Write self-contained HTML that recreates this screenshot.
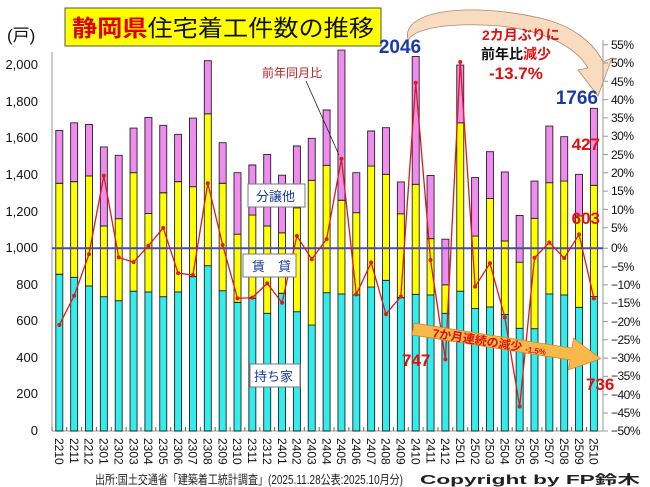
<!DOCTYPE html>
<html><head><meta charset="utf-8"><style>
body{margin:0;background:#fff}
svg{display:block;font-family:"Liberation Sans","Noto Sans CJK JP",sans-serif}
</style></head><body>
<svg width="650" height="487" viewBox="0 0 650 487" xmlns="http://www.w3.org/2000/svg">
<rect width="650" height="487" fill="#fff"/>
<path d="M408,40 C400,10 470,2 540,18 C575,26 595,45 603,62 L612,58 L598,96 L578,70 L588,68 C575,45 540,30 500,26 C450,22 415,28 408,40 Z" fill="#f9dcc0" stroke="#b08a70" stroke-width="0.8"/>
<g stroke="#999" stroke-width="1" fill="none">
<line x1="52" y1="52" x2="52" y2="431"/>
<line x1="603" y1="40" x2="603" y2="431"/>
<line x1="52" y1="431" x2="603" y2="431"/>
</g>
<g transform="translate(0,431) scale(1,-0.1827)" stroke="#222" stroke-width="0.9">
<g fill="#33ecec">
<rect x="55.8" y="0" width="7" height="858" vector-effect="non-scaling-stroke"/>
<rect x="70.65" y="0" width="7" height="841" vector-effect="non-scaling-stroke"/>
<rect x="85.5" y="0" width="7" height="794" vector-effect="non-scaling-stroke"/>
<rect x="100.35" y="0" width="7" height="735" vector-effect="non-scaling-stroke"/>
<rect x="115.2" y="0" width="7" height="713" vector-effect="non-scaling-stroke"/>
<rect x="130.05" y="0" width="7" height="765" vector-effect="non-scaling-stroke"/>
<rect x="144.9" y="0" width="7" height="761" vector-effect="non-scaling-stroke"/>
<rect x="159.75" y="0" width="7" height="735" vector-effect="non-scaling-stroke"/>
<rect x="174.6" y="0" width="7" height="761" vector-effect="non-scaling-stroke"/>
<rect x="189.45" y="0" width="7" height="845" vector-effect="non-scaling-stroke"/>
<rect x="204.3" y="0" width="7" height="905" vector-effect="non-scaling-stroke"/>
<rect x="219.15" y="0" width="7" height="768" vector-effect="non-scaling-stroke"/>
<rect x="234" y="0" width="7" height="704" vector-effect="non-scaling-stroke"/>
<rect x="248.85" y="0" width="7" height="726" vector-effect="non-scaling-stroke"/>
<rect x="263.7" y="0" width="7" height="644" vector-effect="non-scaling-stroke"/>
<rect x="278.55" y="0" width="7" height="754" vector-effect="non-scaling-stroke"/>
<rect x="293.4" y="0" width="7" height="653" vector-effect="non-scaling-stroke"/>
<rect x="308.25" y="0" width="7" height="580" vector-effect="non-scaling-stroke"/>
<rect x="323.1" y="0" width="7" height="757" vector-effect="non-scaling-stroke"/>
<rect x="337.95" y="0" width="7" height="750" vector-effect="non-scaling-stroke"/>
<rect x="352.8" y="0" width="7" height="745" vector-effect="non-scaling-stroke"/>
<rect x="367.65" y="0" width="7" height="788" vector-effect="non-scaling-stroke"/>
<rect x="382.5" y="0" width="7" height="825" vector-effect="non-scaling-stroke"/>
<rect x="397.35" y="0" width="7" height="730" vector-effect="non-scaling-stroke"/>
<rect x="412.2" y="0" width="7" height="748" vector-effect="non-scaling-stroke"/>
<rect x="427.05" y="0" width="7" height="745" vector-effect="non-scaling-stroke"/>
<rect x="441.9" y="0" width="7" height="644" vector-effect="non-scaling-stroke"/>
<rect x="456.75" y="0" width="7" height="765" vector-effect="non-scaling-stroke"/>
<rect x="471.6" y="0" width="7" height="670" vector-effect="non-scaling-stroke"/>
<rect x="486.45" y="0" width="7" height="679" vector-effect="non-scaling-stroke"/>
<rect x="501.3" y="0" width="7" height="638" vector-effect="non-scaling-stroke"/>
<rect x="516.15" y="0" width="7" height="562" vector-effect="non-scaling-stroke"/>
<rect x="531" y="0" width="7" height="560" vector-effect="non-scaling-stroke"/>
<rect x="545.85" y="0" width="7" height="750" vector-effect="non-scaling-stroke"/>
<rect x="560.7" y="0" width="7" height="745" vector-effect="non-scaling-stroke"/>
<rect x="575.55" y="0" width="7" height="677" vector-effect="non-scaling-stroke"/>
<rect x="590.4" y="0" width="7" height="736" vector-effect="non-scaling-stroke"/>
</g>
<g fill="#ffff00">
<rect x="55.8" y="858" width="7" height="498" vector-effect="non-scaling-stroke"/>
<rect x="70.65" y="841" width="7" height="524" vector-effect="non-scaling-stroke"/>
<rect x="85.5" y="794" width="7" height="602" vector-effect="non-scaling-stroke"/>
<rect x="100.35" y="735" width="7" height="387" vector-effect="non-scaling-stroke"/>
<rect x="115.2" y="713" width="7" height="449" vector-effect="non-scaling-stroke"/>
<rect x="130.05" y="765" width="7" height="649" vector-effect="non-scaling-stroke"/>
<rect x="144.9" y="761" width="7" height="430" vector-effect="non-scaling-stroke"/>
<rect x="159.75" y="735" width="7" height="569" vector-effect="non-scaling-stroke"/>
<rect x="174.6" y="761" width="7" height="604" vector-effect="non-scaling-stroke"/>
<rect x="189.45" y="845" width="7" height="492" vector-effect="non-scaling-stroke"/>
<rect x="204.3" y="905" width="7" height="831" vector-effect="non-scaling-stroke"/>
<rect x="219.15" y="768" width="7" height="588" vector-effect="non-scaling-stroke"/>
<rect x="234" y="704" width="7" height="373" vector-effect="non-scaling-stroke"/>
<rect x="248.85" y="726" width="7" height="456" vector-effect="non-scaling-stroke"/>
<rect x="263.7" y="644" width="7" height="478" vector-effect="non-scaling-stroke"/>
<rect x="278.55" y="754" width="7" height="331" vector-effect="non-scaling-stroke"/>
<rect x="293.4" y="653" width="7" height="569" vector-effect="non-scaling-stroke"/>
<rect x="308.25" y="580" width="7" height="792" vector-effect="non-scaling-stroke"/>
<rect x="323.1" y="757" width="7" height="697" vector-effect="non-scaling-stroke"/>
<rect x="337.95" y="750" width="7" height="513" vector-effect="non-scaling-stroke"/>
<rect x="352.8" y="745" width="7" height="450" vector-effect="non-scaling-stroke"/>
<rect x="367.65" y="788" width="7" height="662" vector-effect="non-scaling-stroke"/>
<rect x="382.5" y="825" width="7" height="580" vector-effect="non-scaling-stroke"/>
<rect x="397.35" y="730" width="7" height="459" vector-effect="non-scaling-stroke"/>
<rect x="412.2" y="748" width="7" height="602" vector-effect="non-scaling-stroke"/>
<rect x="427.05" y="745" width="7" height="308" vector-effect="non-scaling-stroke"/>
<rect x="441.9" y="644" width="7" height="156" vector-effect="non-scaling-stroke"/>
<rect x="456.75" y="765" width="7" height="922" vector-effect="non-scaling-stroke"/>
<rect x="471.6" y="670" width="7" height="397" vector-effect="non-scaling-stroke"/>
<rect x="486.45" y="679" width="7" height="594" vector-effect="non-scaling-stroke"/>
<rect x="501.3" y="638" width="7" height="402" vector-effect="non-scaling-stroke"/>
<rect x="516.15" y="562" width="7" height="362" vector-effect="non-scaling-stroke"/>
<rect x="531" y="560" width="7" height="604" vector-effect="non-scaling-stroke"/>
<rect x="545.85" y="750" width="7" height="609" vector-effect="non-scaling-stroke"/>
<rect x="560.7" y="745" width="7" height="623" vector-effect="non-scaling-stroke"/>
<rect x="575.55" y="677" width="7" height="500" vector-effect="non-scaling-stroke"/>
<rect x="590.4" y="736" width="7" height="609" vector-effect="non-scaling-stroke"/>
</g>
<g fill="#f08cf0">
<rect x="55.8" y="1356" width="7" height="289" vector-effect="non-scaling-stroke"/>
<rect x="70.65" y="1365" width="7" height="322" vector-effect="non-scaling-stroke"/>
<rect x="85.5" y="1396" width="7" height="282" vector-effect="non-scaling-stroke"/>
<rect x="100.35" y="1122" width="7" height="433" vector-effect="non-scaling-stroke"/>
<rect x="115.2" y="1162" width="7" height="347" vector-effect="non-scaling-stroke"/>
<rect x="130.05" y="1414" width="7" height="244" vector-effect="non-scaling-stroke"/>
<rect x="144.9" y="1191" width="7" height="525" vector-effect="non-scaling-stroke"/>
<rect x="159.75" y="1304" width="7" height="369" vector-effect="non-scaling-stroke"/>
<rect x="174.6" y="1365" width="7" height="259" vector-effect="non-scaling-stroke"/>
<rect x="189.45" y="1337" width="7" height="376" vector-effect="non-scaling-stroke"/>
<rect x="204.3" y="1736" width="7" height="291" vector-effect="non-scaling-stroke"/>
<rect x="219.15" y="1356" width="7" height="222" vector-effect="non-scaling-stroke"/>
<rect x="234" y="1077" width="7" height="337" vector-effect="non-scaling-stroke"/>
<rect x="248.85" y="1182" width="7" height="274" vector-effect="non-scaling-stroke"/>
<rect x="263.7" y="1122" width="7" height="392" vector-effect="non-scaling-stroke"/>
<rect x="278.55" y="1085" width="7" height="315" vector-effect="non-scaling-stroke"/>
<rect x="293.4" y="1222" width="7" height="338" vector-effect="non-scaling-stroke"/>
<rect x="308.25" y="1372" width="7" height="230" vector-effect="non-scaling-stroke"/>
<rect x="323.1" y="1454" width="7" height="303" vector-effect="non-scaling-stroke"/>
<rect x="337.95" y="1263" width="7" height="822" vector-effect="non-scaling-stroke"/>
<rect x="352.8" y="1195" width="7" height="219" vector-effect="non-scaling-stroke"/>
<rect x="367.65" y="1450" width="7" height="192" vector-effect="non-scaling-stroke"/>
<rect x="382.5" y="1405" width="7" height="255" vector-effect="non-scaling-stroke"/>
<rect x="397.35" y="1189" width="7" height="174" vector-effect="non-scaling-stroke"/>
<rect x="412.2" y="1350" width="7" height="700" vector-effect="non-scaling-stroke"/>
<rect x="427.05" y="1053" width="7" height="346" vector-effect="non-scaling-stroke"/>
<rect x="441.9" y="800" width="7" height="250" vector-effect="non-scaling-stroke"/>
<rect x="456.75" y="1687" width="7" height="316" vector-effect="non-scaling-stroke"/>
<rect x="471.6" y="1067" width="7" height="320" vector-effect="non-scaling-stroke"/>
<rect x="486.45" y="1273" width="7" height="256" vector-effect="non-scaling-stroke"/>
<rect x="501.3" y="1040" width="7" height="378" vector-effect="non-scaling-stroke"/>
<rect x="516.15" y="924" width="7" height="256" vector-effect="non-scaling-stroke"/>
<rect x="531" y="1164" width="7" height="204" vector-effect="non-scaling-stroke"/>
<rect x="545.85" y="1359" width="7" height="310" vector-effect="non-scaling-stroke"/>
<rect x="560.7" y="1368" width="7" height="243" vector-effect="non-scaling-stroke"/>
<rect x="575.55" y="1177" width="7" height="228" vector-effect="non-scaling-stroke"/>
<rect x="590.4" y="1345" width="7" height="421" vector-effect="non-scaling-stroke"/>
</g>
</g>
<line x1="52" y1="248.3" x2="603" y2="248.3" stroke="#4a4aa8" stroke-width="2"/>
<path d="M52,431v-4 M66.7,431v-4 M81.6,431v-4 M96.4,431v-4 M111.3,431v-4 M126.1,431v-4 M141,431v-4 M155.8,431v-4 M170.7,431v-4 M185.5,431v-4 M200.4,431v-4 M215.2,431v-4 M230.1,431v-4 M244.9,431v-4 M259.8,431v-4 M274.6,431v-4 M289.5,431v-4 M304.3,431v-4 M319.2,431v-4 M334,431v-4 M348.9,431v-4 M363.7,431v-4 M378.6,431v-4 M393.4,431v-4 M408.3,431v-4 M423.1,431v-4 M438,431v-4 M452.8,431v-4 M467.7,431v-4 M482.5,431v-4 M497.4,431v-4 M512.2,431v-4 M527.1,431v-4 M541.9,431v-4 M556.8,431v-4 M571.6,431v-4 M586.5,431v-4" stroke="#666" stroke-width="1"/>
<path d="M603,44.7h5 M603,63h5 M603,81.3h5 M603,99.6h5 M603,117.9h5 M603,136.2h5 M603,154.5h5 M603,172.8h5 M603,191.1h5 M603,209.4h5 M603,227.7h5 M603,248.3h5 M603,266.6h5 M603,284.9h5 M603,303.2h5 M603,321.5h5 M603,339.8h5 M603,358.1h5 M603,376.4h5 M603,394.7h5 M603,413h5 M603,431h5" stroke="#999"/>
<g transform="translate(0,248.3) scale(1,-3.654)" fill="none" stroke="#e01818">
<polyline vector-effect="non-scaling-stroke" stroke-width="1.3" points="59.3,-21 74.15,-13 89,-1.6 103.85,19.9 118.7,-2.5 133.55,-3.8 148.4,0.7 163.25,5.6 178.1,-6.8 192.95,-7.3 207.8,17.8 222.65,0.9 237.5,-13.7 252.35,-13.5 267.2,-9.6 282.05,-14.9 296.9,3.4 311.75,-3 326.6,2.5 341.45,24.5 356.3,-12.6 371.15,-3.9 386,-18 400.85,-13.2 415.7,45.3 430.55,-3.2 445.4,-30.4 460.25,51 475.1,-10.5 489.95,-4.1 504.8,-18.9 519.65,-43.3 534.5,-2.6 549.35,1.6 564.2,-2.7 579.05,3.8 593.9,-13.7"/>
<path vector-effect="non-scaling-stroke" stroke-width="4" stroke-linecap="round" d="M59.3,-21h0.01M74.15,-13h0.01M89,-1.6h0.01M103.85,19.9h0.01M118.7,-2.5h0.01M133.55,-3.8h0.01M148.4,0.7h0.01M163.25,5.6h0.01M178.1,-6.8h0.01M192.95,-7.3h0.01M207.8,17.8h0.01M222.65,0.9h0.01M237.5,-13.7h0.01M252.35,-13.5h0.01M267.2,-9.6h0.01M282.05,-14.9h0.01M296.9,3.4h0.01M311.75,-3h0.01M326.6,2.5h0.01M341.45,24.5h0.01M356.3,-12.6h0.01M371.15,-3.9h0.01M386,-18h0.01M400.85,-13.2h0.01M415.7,45.3h0.01M430.55,-3.2h0.01M445.4,-30.4h0.01M460.25,51h0.01M475.1,-10.5h0.01M489.95,-4.1h0.01M504.8,-18.9h0.01M519.65,-43.3h0.01M534.5,-2.6h0.01M549.35,1.6h0.01M564.2,-2.7h0.01M579.05,3.8h0.01M593.9,-13.7h0.01"/>
</g>
<g font-size="13" fill="#111" text-anchor="end">
<text x="38" y="435">0</text>
<text x="38" y="398">200</text>
<text x="38" y="362">400</text>
<text x="38" y="325">600</text>
<text x="38" y="289">800</text>
<text x="38" y="252">1,000</text>
<text x="38" y="216">1,200</text>
<text x="38" y="179">1,400</text>
<text x="38" y="142">1,600</text>
<text x="38" y="106">1,800</text>
<text x="38" y="69">2,000</text>
</g>
<text x="7" y="41" font-size="17" fill="#111">(戸)</text>
<g font-size="12" fill="#111" letter-spacing="-0.5">
<text x="611" y="49">55%</text><text x="611" y="67">50%</text><text x="611" y="86">45%</text><text x="611" y="104">40%</text><text x="611" y="122">35%</text><text x="611" y="140">30%</text><text x="611" y="159">25%</text><text x="611" y="177">20%</text><text x="611" y="195">15%</text><text x="611" y="214">10%</text><text x="611" y="232">5%</text><text x="611" y="252">0%</text><text x="611" y="271">−5%</text><text x="611" y="289">−10%</text><text x="611" y="307">−15%</text><text x="611" y="326">−20%</text><text x="611" y="344">−25%</text><text x="611" y="362">−30%</text><text x="611" y="380">−35%</text><text x="611" y="399">−40%</text><text x="611" y="417">−45%</text><text x="611" y="435">−50%</text>
</g>
<g font-size="12" fill="#111">
<text transform="translate(55,438) rotate(90)">2210</text>
<text transform="translate(69.85,438) rotate(90)">2211</text>
<text transform="translate(84.7,438) rotate(90)">2212</text>
<text transform="translate(99.55,438) rotate(90)">2301</text>
<text transform="translate(114.4,438) rotate(90)">2302</text>
<text transform="translate(129.25,438) rotate(90)">2303</text>
<text transform="translate(144.1,438) rotate(90)">2304</text>
<text transform="translate(158.95,438) rotate(90)">2305</text>
<text transform="translate(173.8,438) rotate(90)">2306</text>
<text transform="translate(188.65,438) rotate(90)">2307</text>
<text transform="translate(203.5,438) rotate(90)">2308</text>
<text transform="translate(218.35,438) rotate(90)">2309</text>
<text transform="translate(233.2,438) rotate(90)">2310</text>
<text transform="translate(248.05,438) rotate(90)">2311</text>
<text transform="translate(262.9,438) rotate(90)">2312</text>
<text transform="translate(277.75,438) rotate(90)">2401</text>
<text transform="translate(292.6,438) rotate(90)">2402</text>
<text transform="translate(307.45,438) rotate(90)">2403</text>
<text transform="translate(322.3,438) rotate(90)">2404</text>
<text transform="translate(337.15,438) rotate(90)">2405</text>
<text transform="translate(352,438) rotate(90)">2406</text>
<text transform="translate(366.85,438) rotate(90)">2407</text>
<text transform="translate(381.7,438) rotate(90)">2408</text>
<text transform="translate(396.55,438) rotate(90)">2409</text>
<text transform="translate(411.4,438) rotate(90)">2410</text>
<text transform="translate(426.25,438) rotate(90)">2411</text>
<text transform="translate(441.1,438) rotate(90)">2412</text>
<text transform="translate(455.95,438) rotate(90)">2501</text>
<text transform="translate(470.8,438) rotate(90)">2502</text>
<text transform="translate(485.65,438) rotate(90)">2503</text>
<text transform="translate(500.5,438) rotate(90)">2504</text>
<text transform="translate(515.35,438) rotate(90)">2505</text>
<text transform="translate(530.2,438) rotate(90)">2506</text>
<text transform="translate(545.05,438) rotate(90)">2507</text>
<text transform="translate(559.9,438) rotate(90)">2508</text>
<text transform="translate(574.75,438) rotate(90)">2509</text>
<text transform="translate(589.6,438) rotate(90)">2510</text>
</g>
<text x="95" y="484" font-size="12.5" fill="#222" textLength="308" lengthAdjust="spacingAndGlyphs">出所:国土交通省「建築着工統計調査」(2025.11.28公表:2025.10月分)</text>
<text x="420" y="484" font-size="12.5" font-weight="bold" fill="#222" textLength="220" lengthAdjust="spacingAndGlyphs">Copyright by FP鈴木</text>
<rect x="65" y="8" width="316" height="38" fill="#ffff00" stroke="#555" stroke-width="1"/>
<text x="72" y="36" font-size="23" font-weight="bold" textLength="302" lengthAdjust="spacingAndGlyphs"><tspan fill="#e00000">静岡県</tspan><tspan fill="#111" font-weight="normal">住宅着工件数の推移</tspan></text>
<g font-size="13" fill="#1a3a9a">
<rect x="248" y="184" width="57" height="23" fill="#fff" stroke="#778"/>
<text x="256" y="201">分譲他</text>
<rect x="243" y="254" width="53" height="23" fill="#fff" stroke="#778"/>
<text x="252" y="271">賃　貸</text>
<rect x="250" y="364" width="50" height="23" fill="#fff" stroke="#778"/>
<text x="254" y="381">持ち家</text>
</g>
<text x="262" y="77" font-size="12" fill="#c02020">前年同月比</text>
<line x1="306" y1="81" x2="339" y2="155" stroke="#222" stroke-width="0.8"/>
<text x="400" y="53" font-size="19" font-weight="bold" fill="#1a3aaa" text-anchor="middle">2046</text>
<text x="598" y="104" font-size="19" font-weight="bold" fill="#1a3aaa" text-anchor="end">1766</text>
<text x="482" y="40" font-size="14" font-weight="bold" fill="#e01010">2カ月ぶりに</text>
<text x="481" y="59" font-size="14" font-weight="bold" fill="#111">前年比<tspan fill="#e01010">減少</tspan></text>
<text x="489" y="79" font-size="17" font-weight="bold" fill="#e01010">-13.7%</text>
<text x="600" y="150" font-size="17" font-weight="bold" fill="#e01010" text-anchor="end">427</text>
<text x="600" y="224" font-size="17" font-weight="bold" fill="#e01010" text-anchor="end">603</text>
<text x="402" y="366" font-size="17" font-weight="bold" fill="#e01010">747</text>
<text x="586" y="390" font-size="17" font-weight="bold" fill="#e01010">736</text>
<g transform="translate(413,329) rotate(9)">
<path d="M0,-6 L160,-6 L160,-16 L190,0 L160,16 L160,6 L0,6 Z" fill="#f9b84a" stroke="#c88a30" stroke-width="0.8"/>
<text x="20" y="5" font-size="12" font-weight="bold" fill="#e01010">7か月連続の減少 <tspan font-size="8">-1.5%</tspan></text>
</g>
</svg>
</body></html>
